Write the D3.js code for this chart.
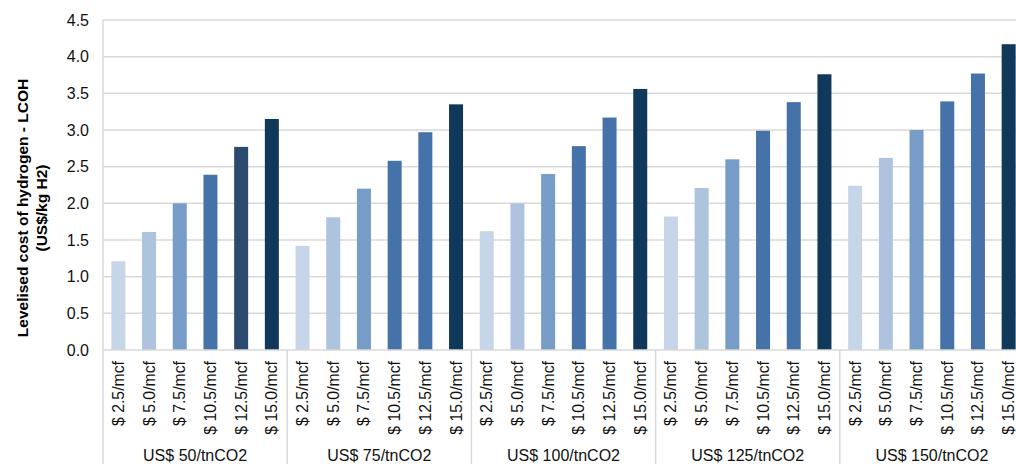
<!DOCTYPE html>
<html>
<head>
<meta charset="utf-8">
<script src="https://cdn.jsdelivr.net/npm/d3@7"></script>
<style>
  html, body { margin: 0; padding: 0; background: #ffffff; }
  svg { display: block; font-family: "Liberation Sans", Arial, sans-serif; }
</style>
</head>
<body>
<svg id="chart" width="1016" height="464"></svg>
<script>
// Carbon price scenarios (outer groups) and gas price cases (bars within each group)
const carbonPrices = ["US$ 50/tnCO2", "US$ 75/tnCO2", "US$ 100/tnCO2", "US$ 125/tnCO2", "US$ 150/tnCO2"];
const gasPrices = ["$ 2.5/mcf", "$ 5.0/mcf", "$ 7.5/mcf", "$ 10.5/mcf", "$ 12.5/mcf", "$ 15.0/mcf"];

// LCOH (US$/kg H2), one array per carbon price scenario
const lcoh50  = [1.21, 1.61, 2.00, 2.39, 2.77, 3.15];
const lcoh75  = [1.42, 1.81, 2.20, 2.58, 2.97, 3.35];
const lcoh100 = [1.62, 2.00, 2.40, 2.78, 3.17, 3.56];
const lcoh125 = [1.82, 2.21, 2.60, 2.99, 3.38, 3.76];
const lcoh150 = [2.24, 2.62, 3.00, 3.39, 3.77, 4.17];

const yTicks = [0.0, 0.5, 1.0, 1.5, 2.0, 2.5, 3.0, 3.5, 4.0, 4.5];

// Bar fills per group
const paletteFirst = ["#C6D5E8", "#ADC3DE", "#779CC8", "#4672AA", "#2C4A6E", "#10385A"];
const paletteRest  = ["#C6D5E8", "#ADC3DE", "#779CC8", "#4672AA", "#4672AA", "#10385A"];

const series = [lcoh50, lcoh75, lcoh100, lcoh125, lcoh150];
const rows = [];
series.forEach((vals, gi) => {
  vals.forEach((v, bi) => {
    rows.push({ group: carbonPrices[gi], gas: gasPrices[bi], value: v,
                color: (gi === 0 ? paletteFirst : paletteRest)[bi] });
  });
});

const svg = d3.select("#chart");
const plotLeft = 103, plotRight = 1024, plotTop = 20, plotBottom = 350;
const gridColor = "#D9D9D9";
const textColor = "#111";

const x0 = d3.scaleBand().domain(carbonPrices).range([plotLeft, plotRight]).paddingInner(0).paddingOuter(0);
const x1 = d3.scaleBand().domain(gasPrices).range([0, x0.bandwidth()])
  .paddingInner(0.544).paddingOuter(0.272);
const y = d3.scaleLinear().domain([0, 4.5]).range([plotBottom, plotTop]);

// Horizontal gridlines
svg.append("g").selectAll("line").data(yTicks.filter(t => t > 0)).join("line")
  .attr("x1", plotLeft).attr("x2", plotRight)
  .attr("y1", d => y(d)).attr("y2", d => y(d))
  .attr("stroke", gridColor).attr("stroke-width", 1.5);

// Bars
svg.append("g").selectAll("rect").data(rows).join("rect")
  .attr("x", d => x0(d.group) + x1(d.gas))
  .attr("width", x1.bandwidth())
  .attr("y", d => y(d.value))
  .attr("height", d => y(0) - y(d.value))
  .attr("fill", d => d.color);

// Baseline and left axis line
svg.append("line").attr("x1", plotLeft).attr("x2", plotRight).attr("y1", y(0)).attr("y2", y(0))
  .attr("stroke", gridColor).attr("stroke-width", 1.5);
svg.append("line").attr("x1", plotLeft).attr("x2", plotLeft).attr("y1", plotTop).attr("y2", 464)
  .attr("stroke", gridColor).attr("stroke-width", 1.5);

// Group separators below the axis
svg.append("g").selectAll("line").data(carbonPrices.slice(1)).join("line")
  .attr("x1", d => x0(d)).attr("x2", d => x0(d))
  .attr("y1", y(0)).attr("y2", 464)
  .attr("stroke", gridColor).attr("stroke-width", 1.5);

// Y axis tick labels
const yAxis = d3.axisLeft(y).tickValues(yTicks).tickFormat(d3.format(".1f")).tickSize(0).tickPadding(14);
const yg = svg.append("g").attr("transform", `translate(${plotLeft},0)`).call(yAxis);
yg.select(".domain").remove();
yg.selectAll("text").attr("font-size", 16).attr("fill", textColor).attr("font-family", "Liberation Sans, Arial, sans-serif");

// Gas price labels (rotated)
svg.append("g").selectAll("text").data(rows).join("text")
  .attr("transform", d => `translate(${x0(d.group) + x1(d.gas) + x1.bandwidth() / 2 + 5.5},361) rotate(-90)`)
  .attr("text-anchor", "end")
  .attr("font-size", 15.8).attr("fill", textColor)
  .text(d => d.gas);

// Carbon price group labels
svg.append("g").selectAll("text").data(carbonPrices).join("text")
  .attr("x", d => x0(d) + x0.bandwidth() / 2)
  .attr("y", 461)
  .attr("text-anchor", "middle")
  .attr("font-size", 16).attr("fill", textColor)
  .text(d => d);

// Y axis title
const title = svg.append("text")
  .attr("transform", "translate(0,208) rotate(-90)")
  .attr("text-anchor", "middle")
  .attr("font-size", 15.5).attr("font-weight", "bold").attr("fill", "#000");
title.append("tspan").attr("x", 0).attr("y", 28).text("Levelised cost of hydrogen - LCOH");
title.append("tspan").attr("x", 0).attr("y", 47).text("(US$/kg H2)");
</script>
</body>
</html>
